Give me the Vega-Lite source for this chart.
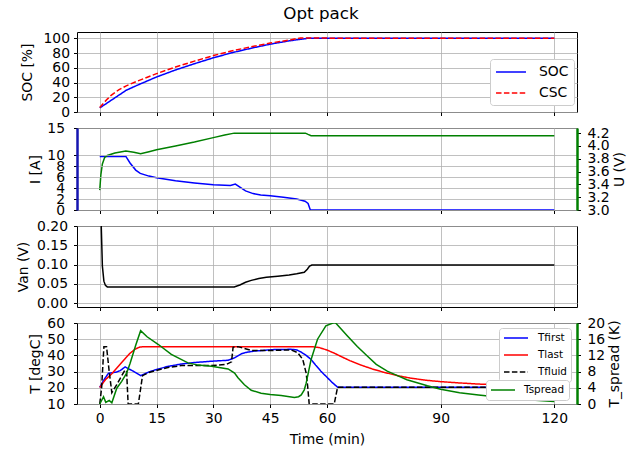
{
  "$schema": "https://vega.github.io/schema/vega-lite/v6.json",
  "padding": {"left": 15, "top": 6, "right": 5, "bottom": 5},
  "title": {"text": "Opt pack", "fontSize": 16.7, "fontWeight": "normal", "font": "DejaVu Sans", "color": "#000", "offset": 8, "anchor": "middle"},
  "spacing": 16,
  "bounds": "flush",
  "config": {
    "font": "DejaVu Sans",
    "view": {"stroke": "#000", "strokeWidth": 1},
    "axis": {"labelFont": "DejaVu Sans", "labelFontSize": 13.9, "labelColor": "#000", "titleFont": "DejaVu Sans", "titleFontSize": 13.9, "titleFontWeight": "normal", "titleColor": "#000", "tickColor": "#000", "tickSize": 3.5, "labelPadding": 4, "gridColor": "#b0b0b0", "gridWidth": 0.8, "domain": false, "labelFlush": false, "labelOverlap": false}
  },
  "datasets": {
    "soc": [
      {"t": 0, "v": 5.5, "s": "SOC"}, {"t": 7, "v": 29.5, "s": "SOC"}, {"t": 10, "v": 36.5, "s": "SOC"}, {"t": 15, "v": 47.5, "s": "SOC"}, {"t": 20, "v": 57, "s": "SOC"}, {"t": 25, "v": 65.5, "s": "SOC"}, {"t": 30, "v": 73.5, "s": "SOC"}, {"t": 35, "v": 80.5, "s": "SOC"}, {"t": 40, "v": 86.5, "s": "SOC"}, {"t": 45, "v": 92, "s": "SOC"}, {"t": 50, "v": 96.5, "s": "SOC"}, {"t": 55, "v": 100, "s": "SOC"}, {"t": 120, "v": 100, "s": "SOC"},
      {"t": 0, "v": 6, "s": "CSC"}, {"t": 1, "v": 12, "s": "CSC"}, {"t": 2, "v": 17.5, "s": "CSC"}, {"t": 3, "v": 22.5, "s": "CSC"}, {"t": 5, "v": 30, "s": "CSC"}, {"t": 7, "v": 35.5, "s": "CSC"}, {"t": 10, "v": 42, "s": "CSC"}, {"t": 15, "v": 52, "s": "CSC"}, {"t": 20, "v": 61, "s": "CSC"}, {"t": 25, "v": 69, "s": "CSC"}, {"t": 30, "v": 76.5, "s": "CSC"}, {"t": 35, "v": 83, "s": "CSC"}, {"t": 40, "v": 88.5, "s": "CSC"}, {"t": 45, "v": 93.5, "s": "CSC"}, {"t": 50, "v": 97.5, "s": "CSC"}, {"t": 53, "v": 100.5, "s": "CSC"}, {"t": 57, "v": 100.5, "s": "CSC"}, {"t": 62, "v": 100, "s": "CSC"}, {"t": 120, "v": 100, "s": "CSC"}
    ],
    "cur": [
      {"t": 0, "v": 9.8}, {"t": 6.9, "v": 9.8}, {"t": 8, "v": 8.6}, {"t": 9.5, "v": 7.3}, {"t": 10.7, "v": 6.7}, {"t": 13, "v": 6.2}, {"t": 15, "v": 5.9}, {"t": 20, "v": 5.35}, {"t": 25, "v": 4.95}, {"t": 30, "v": 4.6}, {"t": 34.5, "v": 4.5}, {"t": 35.8, "v": 4.75}, {"t": 37, "v": 4.2}, {"t": 38.5, "v": 3.5}, {"t": 40.5, "v": 3.0}, {"t": 42.5, "v": 2.75}, {"t": 45, "v": 2.6}, {"t": 48.5, "v": 2.35}, {"t": 52, "v": 2.0}, {"t": 54.2, "v": 1.6}, {"t": 55, "v": 1.2}, {"t": 55.6, "v": 0}, {"t": 120, "v": 0}
    ],
    "volt": [
      {"t": 0, "v": 3.31}, {"t": 0.3, "v": 3.55}, {"t": 0.7, "v": 3.72}, {"t": 1.3, "v": 3.82}, {"t": 2, "v": 3.85}, {"t": 4, "v": 3.89}, {"t": 6.9, "v": 3.92}, {"t": 9, "v": 3.9}, {"t": 10.8, "v": 3.88}, {"t": 13, "v": 3.91}, {"t": 15, "v": 3.94}, {"t": 20, "v": 4.0}, {"t": 25, "v": 4.06}, {"t": 30, "v": 4.13}, {"t": 33, "v": 4.17}, {"t": 35.5, "v": 4.2}, {"t": 54.3, "v": 4.2}, {"t": 55, "v": 4.18}, {"t": 55.8, "v": 4.16}, {"t": 120, "v": 4.16}
    ],
    "van": [
      {"t": 0, "v": 0.3}, {"t": 0.4, "v": 0.2}, {"t": 0.7, "v": 0.096}, {"t": 1.1, "v": 0.057}, {"t": 1.5, "v": 0.046}, {"t": 2, "v": 0.042}, {"t": 35.5, "v": 0.042}, {"t": 37, "v": 0.047}, {"t": 38.5, "v": 0.054}, {"t": 40, "v": 0.059}, {"t": 42, "v": 0.064}, {"t": 44, "v": 0.067}, {"t": 47, "v": 0.07}, {"t": 50, "v": 0.073}, {"t": 52, "v": 0.076}, {"t": 54, "v": 0.08}, {"t": 54.8, "v": 0.088}, {"t": 55.4, "v": 0.096}, {"t": 56, "v": 0.099}, {"t": 120, "v": 0.099}
    ],
    "temp": [
      {"t": 0, "v": 20.2, "s": "Tfirst"}, {"t": 1, "v": 24.5, "s": "Tfirst"}, {"t": 2.3, "v": 29, "s": "Tfirst"}, {"t": 3.6, "v": 29.4, "s": "Tfirst"}, {"t": 4.5, "v": 29.8, "s": "Tfirst"}, {"t": 5.4, "v": 30.6, "s": "Tfirst"}, {"t": 6.7, "v": 32.9, "s": "Tfirst"}, {"t": 7.8, "v": 31.5, "s": "Tfirst"}, {"t": 8.9, "v": 30.2, "s": "Tfirst"}, {"t": 10.8, "v": 27.5, "s": "Tfirst"}, {"t": 13, "v": 29.8, "s": "Tfirst"}, {"t": 15.4, "v": 31.6, "s": "Tfirst"}, {"t": 18, "v": 33.2, "s": "Tfirst"}, {"t": 21.6, "v": 34.7, "s": "Tfirst"}, {"t": 25, "v": 35.6, "s": "Tfirst"}, {"t": 29.5, "v": 36.4, "s": "Tfirst"}, {"t": 33.9, "v": 37, "s": "Tfirst"}, {"t": 35.6, "v": 38.5, "s": "Tfirst"}, {"t": 37.4, "v": 41, "s": "Tfirst"}, {"t": 38.5, "v": 41.8, "s": "Tfirst"}, {"t": 40.9, "v": 42.7, "s": "Tfirst"}, {"t": 46.1, "v": 43.6, "s": "Tfirst"}, {"t": 50.5, "v": 43.75, "s": "Tfirst"}, {"t": 52, "v": 43.4, "s": "Tfirst"}, {"t": 53.2, "v": 42, "s": "Tfirst"}, {"t": 54.5, "v": 40, "s": "Tfirst"}, {"t": 55.8, "v": 37.5, "s": "Tfirst"}, {"t": 57, "v": 34, "s": "Tfirst"}, {"t": 58.4, "v": 30.2, "s": "Tfirst"}, {"t": 60, "v": 26.5, "s": "Tfirst"}, {"t": 61.5, "v": 23, "s": "Tfirst"}, {"t": 62.8, "v": 20.4, "s": "Tfirst"}, {"t": 120, "v": 20.4, "s": "Tfirst"},
      {"t": 0, "v": 20.2, "s": "Tlast"}, {"t": 1.5, "v": 25, "s": "Tlast"}, {"t": 3.2, "v": 28.7, "s": "Tlast"}, {"t": 5, "v": 33.5, "s": "Tlast"}, {"t": 6.7, "v": 38, "s": "Tlast"}, {"t": 8, "v": 41.3, "s": "Tlast"}, {"t": 9.3, "v": 43.8, "s": "Tlast"}, {"t": 10.6, "v": 45.2, "s": "Tlast"}, {"t": 12, "v": 45.4, "s": "Tlast"}, {"t": 56, "v": 45.4, "s": "Tlast"}, {"t": 58, "v": 44.8, "s": "Tlast"}, {"t": 60, "v": 43.3, "s": "Tlast"}, {"t": 62, "v": 41.3, "s": "Tlast"}, {"t": 64, "v": 39, "s": "Tlast"}, {"t": 66, "v": 36.8, "s": "Tlast"}, {"t": 69, "v": 34, "s": "Tlast"}, {"t": 72, "v": 31.6, "s": "Tlast"}, {"t": 75, "v": 29.6, "s": "Tlast"}, {"t": 78.6, "v": 27.5, "s": "Tlast"}, {"t": 82, "v": 26, "s": "Tlast"}, {"t": 86, "v": 24.7, "s": "Tlast"}, {"t": 90, "v": 23.8, "s": "Tlast"}, {"t": 95, "v": 23, "s": "Tlast"}, {"t": 100, "v": 22.3, "s": "Tlast"}, {"t": 110, "v": 21.5, "s": "Tlast"}, {"t": 120, "v": 21, "s": "Tlast"},
      {"t": 0, "v": 10, "s": "Tfluid"}, {"t": 0.5, "v": 20, "s": "Tfluid"}, {"t": 1.1, "v": 45.4, "s": "Tfluid"}, {"t": 1.8, "v": 45.4, "s": "Tfluid"}, {"t": 2.5, "v": 30, "s": "Tfluid"}, {"t": 3.2, "v": 17, "s": "Tfluid"}, {"t": 4.5, "v": 22, "s": "Tfluid"}, {"t": 5.7, "v": 27, "s": "Tfluid"}, {"t": 6.7, "v": 31, "s": "Tfluid"}, {"t": 7.1, "v": 30, "s": "Tfluid"}, {"t": 7.5, "v": 10, "s": "Tfluid"}, {"t": 10.2, "v": 10, "s": "Tfluid"}, {"t": 11.3, "v": 27.5, "s": "Tfluid"}, {"t": 13, "v": 29.5, "s": "Tfluid"}, {"t": 15.4, "v": 31, "s": "Tfluid"}, {"t": 18, "v": 32.5, "s": "Tfluid"}, {"t": 21.6, "v": 33.7, "s": "Tfluid"}, {"t": 25, "v": 33.8, "s": "Tfluid"}, {"t": 29.5, "v": 33.7, "s": "Tfluid"}, {"t": 33.4, "v": 34.4, "s": "Tfluid"}, {"t": 34.8, "v": 36, "s": "Tfluid"}, {"t": 35.2, "v": 45, "s": "Tfluid"}, {"t": 36.5, "v": 45.4, "s": "Tfluid"}, {"t": 37.4, "v": 44.8, "s": "Tfluid"}, {"t": 40, "v": 43.1, "s": "Tfluid"}, {"t": 46.1, "v": 43.1, "s": "Tfluid"}, {"t": 50.5, "v": 43.4, "s": "Tfluid"}, {"t": 52.3, "v": 41.6, "s": "Tfluid"}, {"t": 53.6, "v": 37.5, "s": "Tfluid"}, {"t": 54.5, "v": 29.1, "s": "Tfluid"}, {"t": 54.9, "v": 20.8, "s": "Tfluid"}, {"t": 55.3, "v": 10, "s": "Tfluid"}, {"t": 61.9, "v": 10, "s": "Tfluid"}, {"t": 62.8, "v": 20.4, "s": "Tfluid"}, {"t": 120, "v": 20.4, "s": "Tfluid"}
    ],
    "spread": [
      {"t": 0, "v": 0, "s": "Tspread"}, {"t": 1, "v": 1.8, "s": "Tspread"}, {"t": 1.6, "v": 0.4, "s": "Tspread"}, {"t": 2.5, "v": 0.9, "s": "Tspread"}, {"t": 3.2, "v": 0.3, "s": "Tspread"}, {"t": 4.5, "v": 3.9, "s": "Tspread"}, {"t": 5.8, "v": 5.6, "s": "Tspread"}, {"t": 7.1, "v": 7.6, "s": "Tspread"}, {"t": 8, "v": 10, "s": "Tspread"}, {"t": 9.5, "v": 14.5, "s": "Tspread"}, {"t": 10.8, "v": 18.1, "s": "Tspread"}, {"t": 12.5, "v": 16.6, "s": "Tspread"}, {"t": 15.4, "v": 14.75, "s": "Tspread"}, {"t": 18.9, "v": 12.25, "s": "Tspread"}, {"t": 23.3, "v": 10.15, "s": "Tspread"}, {"t": 26, "v": 9.6, "s": "Tspread"}, {"t": 29.5, "v": 9.3, "s": "Tspread"}, {"t": 33.9, "v": 8.65, "s": "Tspread"}, {"t": 35.6, "v": 7.65, "s": "Tspread"}, {"t": 36.5, "v": 6.5, "s": "Tspread"}, {"t": 38.2, "v": 4.75, "s": "Tspread"}, {"t": 40, "v": 3.4, "s": "Tspread"}, {"t": 42.6, "v": 2.65, "s": "Tspread"}, {"t": 45, "v": 2.35, "s": "Tspread"}, {"t": 47.9, "v": 2.1, "s": "Tspread"}, {"t": 51.4, "v": 1.6, "s": "Tspread"}, {"t": 52.5, "v": 1.8, "s": "Tspread"}, {"t": 53.2, "v": 2.25, "s": "Tspread"}, {"t": 54, "v": 3.5, "s": "Tspread"}, {"t": 54.5, "v": 5.15, "s": "Tspread"}, {"t": 55.8, "v": 11, "s": "Tspread"}, {"t": 57.5, "v": 16, "s": "Tspread"}, {"t": 59.7, "v": 19.3, "s": "Tspread"}, {"t": 61.9, "v": 20.1, "s": "Tspread"}, {"t": 62.3, "v": 20, "s": "Tspread"}, {"t": 65.4, "v": 16.8, "s": "Tspread"}, {"t": 68, "v": 14.2, "s": "Tspread"}, {"t": 70.7, "v": 11.8, "s": "Tspread"}, {"t": 73, "v": 9.8, "s": "Tspread"}, {"t": 75.9, "v": 8.1, "s": "Tspread"}, {"t": 78.6, "v": 7, "s": "Tspread"}, {"t": 81.1, "v": 6, "s": "Tspread"}, {"t": 86.5, "v": 4.5, "s": "Tspread"}, {"t": 90, "v": 3.65, "s": "Tspread"}, {"t": 95, "v": 2.8, "s": "Tspread"}, {"t": 100, "v": 2.2, "s": "Tspread"}, {"t": 105, "v": 1.7, "s": "Tspread"}, {"t": 110, "v": 1.3, "s": "Tspread"}, {"t": 115, "v": 0.9, "s": "Tspread"}, {"t": 120, "v": 0.6, "s": "Tspread"}
    ]
  },
  "vconcat": [
    {
      "width": 500, "height": 80,
      "data": {"name": "soc"},
      "mark": {"type": "line", "strokeWidth": 1.5, "clip": true},
      "encoding": {
        "x": {"field": "t", "type": "quantitative", "scale": {"domain": [-6, 126], "nice": false, "zero": false}, "axis": {"values": [0, 15, 30, 45, 60, 90, 120], "labels": false, "title": null, "grid": true}},
        "y": {"field": "v", "type": "quantitative", "scale": {"domain": [0, 108.5], "nice": false, "zero": false}, "axis": {"values": [0, 20, 40, 60, 80, 100], "title": "SOC [%]", "grid": true, "titleX": -50, "titleBaseline": "middle", "labelPadding": 4}},
        "color": {"field": "s", "type": "nominal", "scale": {"domain": ["SOC", "CSC"], "range": ["#0000ff", "#ff0000"]}, "legend": {"title": null, "orient": "none", "legendX": 413, "legendY": 27, "fillColor": "#ffffff", "strokeColor": "#cccccc", "cornerRadius": 3, "padding": 5, "symbolType": "M-2.14,0H2.14", "symbolStrokeWidth": 1.5, "symbolSize": 196, "symbolOffset": 8, "labelFontSize": 13.9, "labelColor": "#000", "labelOffset": 20, "rowPadding": 6}},
        "strokeDash": {"field": "s", "type": "nominal", "scale": {"domain": ["SOC", "CSC"], "range": [[1, 0], [5.5, 2.4]]}, "legend": {"title": null, "orient": "none", "legendX": 413, "legendY": 27, "fillColor": "#ffffff", "strokeColor": "#cccccc", "cornerRadius": 3, "padding": 5, "symbolType": "M-2.14,0H2.14", "symbolStrokeWidth": 1.5, "symbolSize": 196, "symbolOffset": 8, "labelFontSize": 13.9, "labelColor": "#000", "labelOffset": 20, "rowPadding": 6}}
      }
    },
    {
      "width": 500, "height": 82,
      "layer": [
        {
          "data": {"name": "cur"},
          "mark": {"type": "line", "strokeWidth": 1.5, "color": "#0000ff", "clip": true},
          "encoding": {
            "x": {"field": "t", "type": "quantitative", "scale": {"domain": [-6, 126], "nice": false, "zero": false}, "axis": {"values": [0, 15, 30, 45, 60, 90, 120], "labels": false, "title": null, "grid": true}},
            "y": {"field": "v", "type": "quantitative", "scale": {"domain": [0, 15], "nice": false, "zero": false}, "axis": {"values": [0, 2, 4, 6, 8, 10, 15], "title": "I [A]", "grid": true, "titleX": -42, "titleBaseline": "middle", "labelPadding": 9, "domain": true, "domainColor": "#1515b0", "domainWidth": 2.5, "zindex": 1}}
          }
        },
        {
          "data": {"name": "volt"},
          "mark": {"type": "line", "strokeWidth": 1.5, "color": "#008000", "clip": true},
          "encoding": {
            "x": {"field": "t", "type": "quantitative", "scale": {"domain": [-6, 126], "nice": false, "zero": false}, "axis": {"values": [0, 15, 30, 45, 60, 90, 120], "labels": false, "title": null, "grid": true}},
            "y": {"field": "v", "type": "quantitative", "scale": {"domain": [3.0, 4.28], "nice": false, "zero": false}, "axis": {"orient": "right", "values": [3.0, 3.2, 3.4, 3.6, 3.8, 4.0, 4.2], "format": ".1f", "title": "U (V)", "grid": false, "titleAngle": 270, "titleX": 42, "titleBaseline": "middle", "labelPadding": 6.5, "domain": true, "domainColor": "#008000", "domainWidth": 2.5, "zindex": 1}}
          }
        }
      ],
      "resolve": {"scale": {"y": "independent"}}
    },
    {
      "width": 500, "height": 81,
      "data": {"name": "van"},
      "mark": {"type": "line", "strokeWidth": 1.5, "color": "#000000", "clip": true},
      "encoding": {
        "x": {"field": "t", "type": "quantitative", "scale": {"domain": [-6, 126], "nice": false, "zero": false}, "axis": {"values": [0, 15, 30, 45, 60, 90, 120], "labels": false, "title": null, "grid": true}},
        "y": {"field": "v", "type": "quantitative", "scale": {"domain": [-0.01, 0.2], "nice": false, "zero": false}, "axis": {"values": [0, 0.05, 0.1, 0.15, 0.2], "format": ".2f", "title": "Van (V)", "grid": true, "titleX": -54, "titleBaseline": "middle", "labelPadding": 6}}
      }
    },
    {
      "width": 500, "height": 81,
      "layer": [
        {
          "data": {"name": "temp"},
          "mark": {"type": "line", "strokeWidth": 1.5, "clip": true},
          "encoding": {
            "x": {"field": "t", "type": "quantitative", "scale": {"domain": [-6, 126], "nice": false, "zero": false}, "axis": {"values": [0, 15, 30, 45, 60, 90, 120], "title": "Time (min)", "grid": true, "labelPadding": 4, "titlePadding": 7}},
            "y": {"field": "v", "type": "quantitative", "scale": {"domain": [10, 60], "nice": false, "zero": false}, "axis": {"values": [10, 20, 30, 40, 50, 60], "title": "T [degC]", "grid": true, "titleX": -42, "titleBaseline": "middle", "labelPadding": 9}},
            "color": {"field": "s", "type": "nominal", "scale": {"domain": ["Tfirst", "Tlast", "Tfluid"], "range": ["#0000ff", "#ff0000", "#000000"]}, "legend": {"title": null, "orient": "none", "legendX": 422, "legendY": 5, "fillColor": "#ffffff", "strokeColor": "#cccccc", "cornerRadius": 3, "padding": 4, "symbolType": "M-2.4,0H2.4", "symbolStrokeWidth": 1.5, "symbolSize": 100, "symbolOffset": 7, "labelFontSize": 10.4, "labelColor": "#000", "labelOffset": 16, "rowPadding": 5}},
            "strokeDash": {"field": "s", "type": "nominal", "scale": {"domain": ["Tfirst", "Tlast", "Tfluid"], "range": [[1, 0], [1, 0], [5.5, 2.4]]}, "legend": {"title": null, "orient": "none", "legendX": 422, "legendY": 5, "fillColor": "#ffffff", "strokeColor": "#cccccc", "cornerRadius": 3, "padding": 4, "symbolType": "M-2.4,0H2.4", "symbolStrokeWidth": 1.5, "symbolSize": 100, "symbolOffset": 7, "labelFontSize": 10.4, "labelColor": "#000", "labelOffset": 16, "rowPadding": 5}}
          }
        },
        {
          "data": {"name": "spread"},
          "mark": {"type": "line", "strokeWidth": 1.5, "clip": true},
          "encoding": {
            "x": {"field": "t", "type": "quantitative", "scale": {"domain": [-6, 126], "nice": false, "zero": false}, "axis": {"values": [0, 15, 30, 45, 60, 90, 120], "title": "Time (min)", "grid": true, "labelPadding": 4, "titlePadding": 7}},
            "y": {"field": "v", "type": "quantitative", "scale": {"domain": [0, 20], "nice": false, "zero": false}, "axis": {"orient": "right", "values": [0, 4, 8, 12, 16, 20], "title": "T_spread (K)", "grid": false, "titleAngle": 270, "titleX": 37, "titleBaseline": "middle", "labelPadding": 6.5, "domain": true, "domainColor": "#008000", "domainWidth": 2.5, "zindex": 1}},
            "color": {"field": "s", "type": "nominal", "scale": {"domain": ["Tspread"], "range": ["#008000"]}, "legend": {"title": null, "orient": "none", "legendX": 409, "legendY": 57, "fillColor": "#ffffff", "strokeColor": "#cccccc", "cornerRadius": 3, "padding": 4, "symbolType": "M-2.4,0H2.4", "symbolStrokeWidth": 1.5, "symbolSize": 100, "symbolOffset": 7, "labelFontSize": 10.4, "labelColor": "#000", "labelOffset": 15}}
          }
        }
      ],
      "resolve": {"scale": {"y": "independent", "color": "independent", "strokeDash": "independent"}}
    }
  ]
}
